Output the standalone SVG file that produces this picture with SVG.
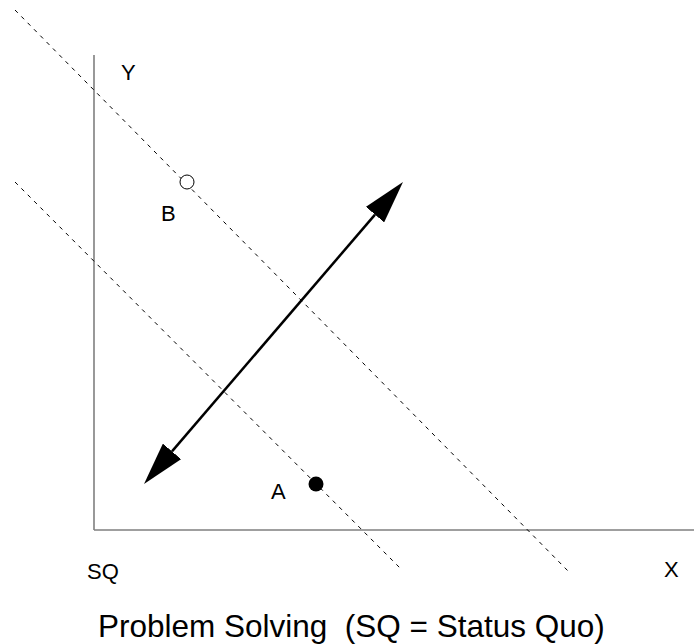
<svg xmlns="http://www.w3.org/2000/svg" width="694" height="644" viewBox="0 0 694 644">
  <style>
    .axis { stroke: #7f7f7f; stroke-width: 1.6; fill: none; }
    .dash { stroke: #000; stroke-width: 1; stroke-dasharray: 4 5; fill: none; }
    .lbl { font-family: "Liberation Sans", Arial, sans-serif; font-size: 22px; fill: #000; }
    .title { font-family: "Liberation Sans", Arial, sans-serif; font-size: 31.5px; fill: #000; }
    .arrow { stroke: #000; stroke-width: 2.5; fill: none; }
  </style>
  <defs>
    <marker id="head" viewBox="0 0 43 24" refX="0" refY="12" markerWidth="43" markerHeight="24" markerUnits="userSpaceOnUse" orient="auto-start-reverse">
      <path d="M0,0 L43,12 L0,24 Z" fill="#000"/>
    </marker>
  </defs>
  <rect width="694" height="644" fill="#fff"/>
  <g id="axes">
    <line class="axis" x1="94" y1="55" x2="94" y2="530"/>
    <line class="axis" x1="94" y1="530" x2="694" y2="530"/>
    <text class="lbl" x="121" y="80">Y</text>
    <text class="lbl" x="664" y="577">X</text>
    <text class="lbl" x="87" y="579">SQ</text>
  </g>
  <g id="indifference-lines">
    <line class="dash" x1="15" y1="10" x2="570" y2="573"/>
    <line class="dash" x1="15" y1="182" x2="402" y2="570"/>
  </g>
  <g id="point-B">
    <circle cx="187" cy="182" r="7" fill="#fff" stroke="#000" stroke-width="1"/>
    <text class="lbl" x="161" y="221">B</text>
  </g>
  <g id="point-A">
    <circle cx="316" cy="484" r="7.5" fill="#000"/>
    <text class="lbl" x="271" y="499">A</text>
  </g>
  <g id="connectors">
    <line class="arrow" x1="172" y1="451.4" x2="375" y2="214.6" marker-start="url(#head)" marker-end="url(#head)"/>
  </g>
  <g id="title">
    <text class="title" x="98" y="637" xml:space="preserve">Problem Solving  (SQ = Status Quo)</text>
  </g>
</svg>
